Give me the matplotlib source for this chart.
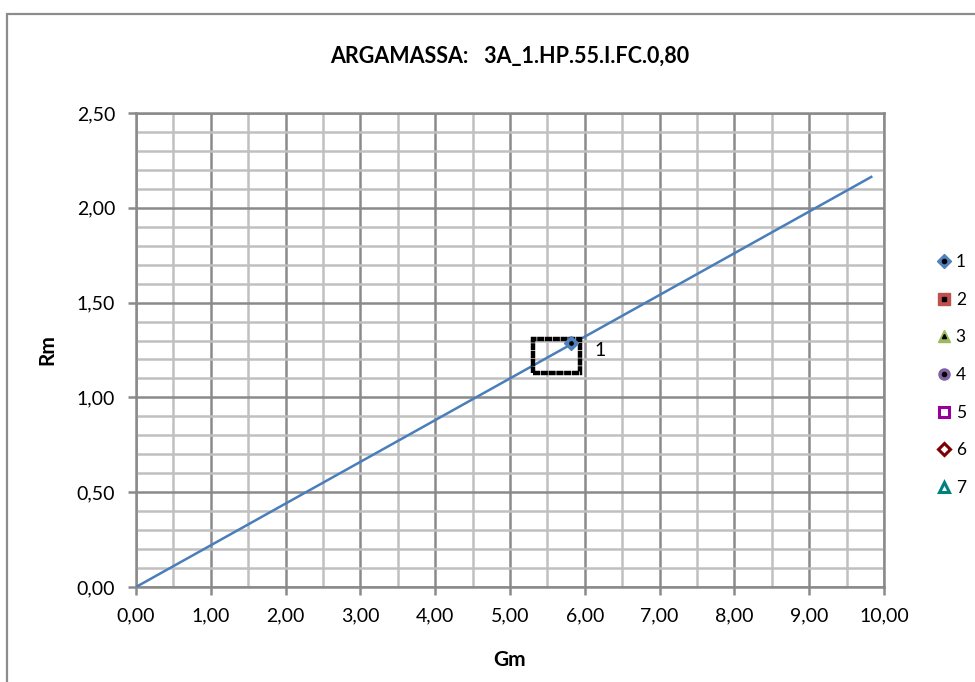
import matplotlib
matplotlib.use("Agg")
import matplotlib.pyplot as plt
from matplotlib.lines import Line2D
from matplotlib.patches import Rectangle
from matplotlib.legend_handler import HandlerTuple
from matplotlib.ticker import MultipleLocator, FuncFormatter

plt.rcParams['font.family'] = ['Lato', 'DejaVu Sans']

# Data
trend_x = [0.0, 9.83]
trend_y = [0.0, 2.163]
point_gm = [5.82]
point_rm = [1.285]
point_labels = ["1"]
box_gm = [5.31, 5.94]
box_rm = [1.13, 1.31]
series_names = ["1", "2", "3", "4", "5", "6", "7"]
series_markers = ["D", "s", "^", "o", "s", "D", "^"]
series_colors = ["#4F81BD", "#C0504D", "#9BBB59", "#8064A2", "#990099", "#800000", "#008080"]
series_filled = [True, True, True, True, False, False, False]

fig = plt.figure(figsize=(9.75, 6.82), dpi=100)
fig.patch.set_facecolor("white")

# outer chart border
fig.add_artist(Rectangle((6.5 / 975, -0.1), 1.2, 1 - 13.5 / 682 + 0.1,
                         transform=fig.transFigure, fill=False,
                         edgecolor="#8c8c8c", linewidth=1.6))

ax = fig.add_axes([136 / 975, 1 - 587 / 682, (884 - 136) / 975, (587 - 113) / 682])
ax.set_xlim(0, 10)
ax.set_ylim(0, 2.5)

ax.xaxis.set_major_locator(MultipleLocator(1.0))
ax.xaxis.set_minor_locator(MultipleLocator(0.5))
ax.yaxis.set_major_locator(MultipleLocator(0.5))
ax.yaxis.set_minor_locator(MultipleLocator(0.1))
fmt = FuncFormatter(lambda v, p: f"{v:.2f}".replace(".", ","))
ax.xaxis.set_major_formatter(fmt)
ax.yaxis.set_major_formatter(fmt)

ax.grid(which="minor", color="#c0c0c0", linewidth=1.8, zorder=0)
ax.grid(which="major", color="#8a8a8a", linewidth=1.8, zorder=0.5)
ax.set_axisbelow(True)
for s in ax.spines.values():
    s.set_color("#8a8a8a")
    s.set_linewidth(1.8)
ax.tick_params(which="major", length=6, width=1.8, color="#8a8a8a",
               labelsize=14, pad=9)
ax.tick_params(which="minor", length=0)

ax.plot(trend_x, trend_y, color="#4A7EBB", linewidth=1.8, zorder=3)

# uncertainty box around the sample point
ax.add_patch(Rectangle((box_gm[0], box_rm[0]), box_gm[1] - box_gm[0], box_rm[1] - box_rm[0],
                       fill=False, edgecolor="black", linewidth=3.2,
                       linestyle=(0, (1.6, 0.15)), zorder=4))

ax.plot(point_gm, point_rm, linestyle="none", marker="D", markersize=7.5,
        markerfacecolor=series_colors[0], markeredgecolor=series_colors[0], zorder=5)
ax.plot(point_gm, point_rm, linestyle="none", marker="o", markersize=2.4,
        color="black", zorder=6)
for x, y, t in zip(point_gm, point_rm, point_labels):
    ax.annotate(t, (x, y), xytext=(17, -5), textcoords="offset points",
                fontsize=14, va="center", ha="left")

ax.set_title("ARGAMASSA:   3A_1.HP.55.I.FC.0,80", fontsize=15.5, fontweight="bold", pad=36)
ax.set_xlabel("Gm", fontsize=15, fontweight="bold", labelpad=18)
ax.set_ylabel("Rm", fontsize=15, fontweight="bold", labelpad=14)

# legend
handles = []
for m, c, f in zip(series_markers, series_colors, series_filled):
    ms = 8 if m != "D" else 7.5
    if f:
        outer = Line2D([], [], linestyle="none", marker=m, markersize=ms,
                       markerfacecolor=c, markeredgecolor=c)
        inner = Line2D([], [], linestyle="none", marker=m if m != "D" else "o",
                       markersize=3.0, color="black")
        handles.append((outer, inner))
    else:
        handles.append(Line2D([], [], linestyle="none", marker=m, markersize=ms - 1,
                              markerfacecolor="white", markeredgecolor=c,
                              markeredgewidth=2.2))
fig.legend(handles, series_names, loc="center left",
           bbox_to_anchor=(928 / 975, 1 - 375 / 682), frameon=False,
           fontsize=12.5, handlelength=0.8, handletextpad=0.3,
           labelspacing=1.25, borderpad=0,
           handler_map={tuple: HandlerTuple(ndivide=1, pad=0)})

fig.savefig("out.png", dpi=100, facecolor="white")
